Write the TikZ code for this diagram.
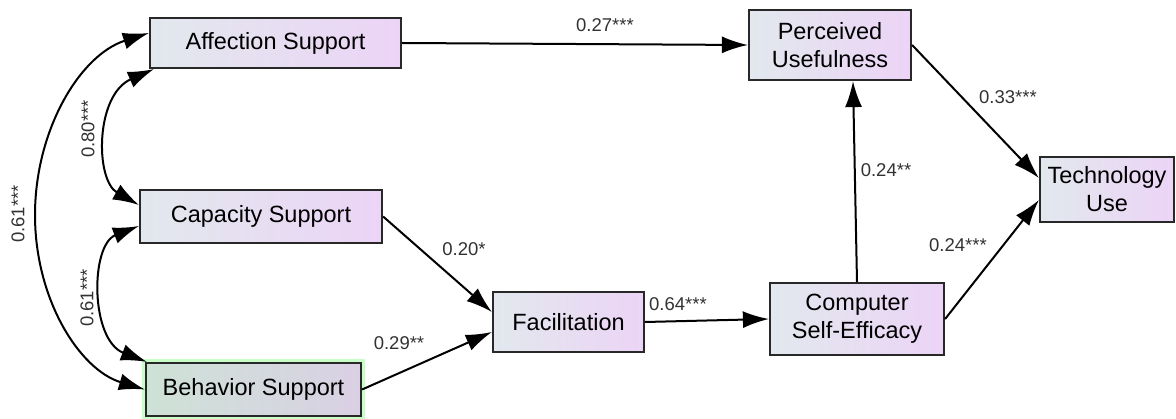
\documentclass[tikz,border=0pt]{standalone}
\usepackage{fontspec}
\setmainfont{Liberation Sans}
\usetikzlibrary{arrows.meta,calc}
\definecolor{boxl}{RGB}{226,232,238}
\definecolor{boxr}{RGB}{236,212,246}
\definecolor{grl}{RGB}{206,226,214}
\definecolor{grr}{RGB}{218,208,228}
\definecolor{edge}{RGB}{40,40,40}
\definecolor{lab}{RGB}{50,50,50}
\tikzset{
  var/.style={draw=edge, line width=2.2pt, left color=boxl, right color=boxr,
    align=center, inner sep=0pt, font=\fontsize{23.5}{28}\selectfont, text=black},
  gvar/.style={var, left color=grl, right color=grr,
    preaction={draw=green!55!white, line width=8pt, opacity=0.4}},
  path/.style={line width=2pt, draw=black, -{Latex[length=26pt,width=17pt]}},
  cov/.style={line width=2pt, draw=black, {Latex[length=26pt,width=17pt]}-{Latex[length=26pt,width=17pt]}},
  coef/.style={font=\fontsize{18.5}{22}\selectfont, text=lab, inner sep=0pt}
}
\begin{document}
\begin{tikzpicture}[x=1pt,y=-1pt]
\useasboundingbox (0,0) rectangle (1176,419);
\node[var, minimum width=251pt, minimum height=50pt] (aff) at (275.5,43) {Affection Support};
\node[var, minimum width=242pt, minimum height=53pt] (cap) at (261,216.5) {Capacity Support};
\node[gvar, minimum width=215pt, minimum height=53pt] (beh) at (253.5,389.5) {Behavior Support};
\node[var, minimum width=151pt, minimum height=60pt] (fac) at (568.5,322) {Facilitation};
\node[var, minimum width=162pt, minimum height=70pt] (pu) at (830,45) {Perceived\\Usefulness};
\node[var, minimum width=174pt, minimum height=72pt] (cse) at (857,319) {Computer\\Self-Efficacy};
\node[var, minimum width=134pt, minimum height=65pt] (tu) at (1107,189.5) {Technology\\Use};

% directed paths
\draw[path] (aff.east) -- (pu.west);
\draw[path] (pu.east) -- ([yshift=11.5pt]tu.west);
\draw[path] (cse.north) -- ([xshift=23pt]pu.south);
\draw[path] (cse.east) -- ([yshift=-10.5pt]tu.west);
\draw[path] (fac.east) -- (cse.west);
\draw[path] (cap.east) -- ([yshift=10pt]fac.west);
\draw[path] (beh.east) -- ([yshift=-10pt]fac.west);

% covariances
\draw[cov] ([xshift=5pt]aff.south west) .. controls (95,95) and (95,180) .. ([yshift=11.5pt]cap.west);
\draw[cov] ([yshift=-9.5pt]cap.west) .. controls (90,245) and (90,340) .. ([xshift=2pt]beh.north west);
\draw[cov] ([yshift=10pt]aff.west) .. controls (80,55) and (35,130) .. (35,215) .. controls (35,300) and (80,370) .. (beh.west);

% coefficients
\node[coef] (c1) at (605,25) {0.27***};
\node[coef] (c2) at (1008,97) {0.33***};
\node[coef] (c3) at (886,170) {0.24**};
\node[coef] (c4) at (958,245) {0.24***};
\node[coef] (c5) at (678,304) {0.64***};
\node[coef] (c6) at (464,249) {0.20*};
\node[coef] (c7) at (399,343) {0.29**};
\node[coef, rotate=90] (c8) at (88,129) {0.80***};
\node[coef, rotate=90] (c9) at (87,298) {0.61***};
\node[coef, rotate=90] (c10) at (18,214) {0.61***};
\end{tikzpicture}
\end{document}
